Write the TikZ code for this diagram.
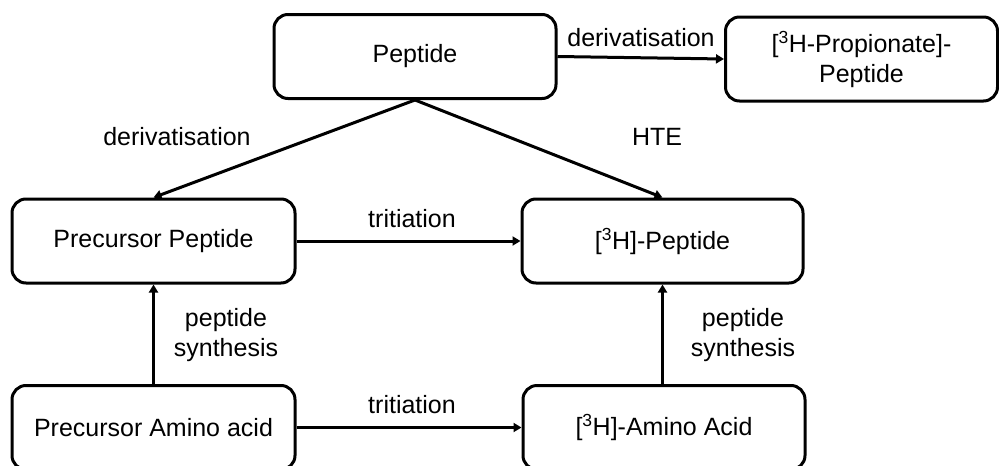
\documentclass[tikz,border=0pt]{standalone}
\usepackage{fontspec}
\setmainfont{Liberation Sans}
\usetikzlibrary{arrows.meta}
\begin{document}
\begin{tikzpicture}[x=1pt,y=-1pt,
  box/.style={draw=black, line width=3pt, rounded corners=14pt, minimum width=282pt, minimum height=84pt, inner sep=0pt, align=center, font=\fontsize{25}{30}\selectfont},
  lbl/.style={font=\fontsize{25}{30}\selectfont, inner sep=0pt, align=center},
  arr/.style={line width=3pt, -{Triangle[length=8pt,width=9pt]}}]
\useasboundingbox (0,0) rectangle (999,466);
\fill[white] (0,0) rectangle (999,466);
\node[box] (pep) at (415,56.5) {Peptide};
\node[box, minimum width=272pt] (prop) at (861.5,59) {[\textsuperscript{3}H-Propionate]-\\Peptide};
\node[box, minimum width=283pt] (pp) at (153.5,241) {Precursor Peptide};
\node[box, minimum width=281pt] (hp) at (662.5,241) {[\textsuperscript{3}H]-Peptide};
\node[box, minimum width=283pt] (paa) at (153.5,427.5) {Precursor Amino acid};
\node[box, minimum width=282pt] (haa) at (664,427.5) {[\textsuperscript{3}H]-Amino Acid};
\draw[arr] (pep.east) -- (prop.west);
\draw[arr] (pep.south) -- (pp.north);
\draw[arr] (pep.south) -- (hp.north);
\draw[arr] (pp.east) -- (hp.west);
\draw[arr] (paa.north) -- (pp.south);
\draw[arr] (haa.north -| hp.south) -- (hp.south);
\draw[arr] (paa.east) -- (haa.west);
\node[lbl] (l1) at (641,38) {derivatisation};
\node[lbl] (l2) at (177,137) {derivatisation};
\node[lbl] (l3) at (657,137) {HTE};
\node[lbl] (l4) at (412,219) {tritiation};
\node[lbl] (l5) at (412,405) {tritiation};
\node[lbl] (l6) at (226,335) {peptide\\synthesis};
\node[lbl] (l7) at (743,335) {peptide\\synthesis};
\end{tikzpicture}
\end{document}
